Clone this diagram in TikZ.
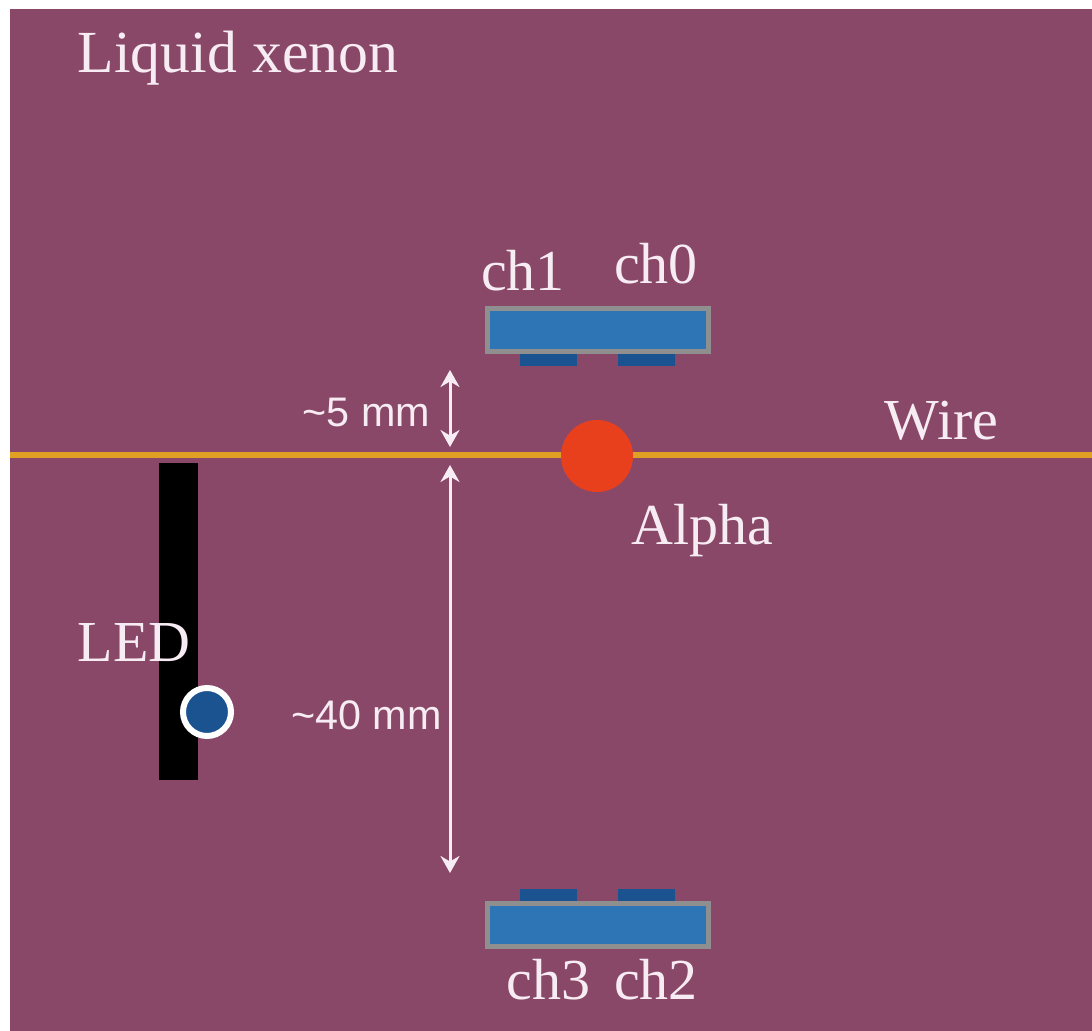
\documentclass[tikz,border=0pt]{standalone}
\usepackage{fontspec}
\setmainfont{Liberation Serif}
\setsansfont{Liberation Sans}
\usetikzlibrary{arrows.meta}
\definecolor{xenon}{HTML}{894868}
\definecolor{sipm}{HTML}{2E75B6}
\definecolor{pad}{HTML}{1B5391}
\definecolor{frame}{HTML}{8F8F8F}
\definecolor{wirecol}{HTML}{E0A024}
\definecolor{alphacol}{HTML}{E8401C}
\definecolor{txt}{HTML}{F7ECF3}
\tikzset{
  lbl/.style={text=txt, inner sep=0pt, font=\fontsize{33}{36}\selectfont},
  dim/.style={text=txt, inner sep=0pt, font=\sffamily\fontsize{23.5}{26}\selectfont},
  sensor/.style={rectangle, draw=frame, line width=1mm, fill=sipm, minimum width=4.42cm, minimum height=0.86cm, inner sep=0pt},
  padbox/.style={rectangle, fill=pad, minimum width=1.14cm, minimum height=0.26cm, inner sep=0pt},
  wirel/.style={line width=1.3mm, wirecol},
  span/.style={line width=0.6mm, txt, {Stealth[length=3.4mm,width=3.8mm]}-{Stealth[length=3.4mm,width=3.8mm]}}
}

\begin{document}
\begin{tikzpicture}
  \useasboundingbox (0,0) rectangle (21.84,-20.62);
  % Liquid volume
  \fill[xenon] (0.2,-0.18) rectangle (21.84,-20.62);

  % Wire and alpha source
  \coordinate (wireL) at (0.2,-9.1);
  \coordinate (wireR) at (21.84,-9.1);
  \draw[wirel] (wireL) -- (wireR);
  \node[circle, fill=alphacol, minimum size=1.44cm, inner sep=0pt] (alpha) at (11.94,-9.12) {};

  % Top sensor
  \node[padbox] (p1) at (10.97,-7.2) {};
  \node[padbox] (p0) at (12.92,-7.2) {};
  \node[sensor] (top) at (11.96,-6.6) {};

  % Bottom sensor
  \node[padbox] (p3) at (10.97,-17.92) {};
  \node[padbox] (p2) at (12.92,-17.92) {};
  \node[sensor] (bot) at (11.96,-18.51) {};

  % LED on its holder
  \node[rectangle, fill=black, minimum width=0.78cm, minimum height=6.34cm, inner sep=0pt] (bar) at (3.57,-12.43) {};
  \node[circle, draw=white, line width=1.2mm, fill=pad, minimum size=0.96cm, inner sep=0pt] (led) at (4.14,-14.24) {};

  % Distances
  \coordinate (a1) at (9,-7.4);
  \coordinate (a2) at (9,-8.94);
  \coordinate (a3) at (9,-9.3);
  \coordinate (a4) at (9,-17.46);
  \draw[span] (a1) -- (a2);
  \draw[span] (a3) -- (a4);
  \node[dim] (d5) at (7.33,-8.26) {\textasciitilde5 mm};
  \node[dim] (d40) at (7.33,-14.3) {\textasciitilde40 mm};

  % Labels
  \node[lbl, font=\fontsize{34}{36}\selectfont] (lx) at (4.76,-1.16) {Liquid xenon};
  \node[lbl] (ch1) at (10.46,-5.42) {ch1};
  \node[lbl] (ch0) at (13.12,-5.27) {ch0};
  \node[lbl] (ch3) at (10.97,-19.6) {ch3};
  \node[lbl] (ch2) at (13.12,-19.6) {ch2};
  \node[lbl] (wl) at (18.83,-8.41) {Wire};
  \node[lbl] (al) at (14.05,-10.62) {Alpha};
  \node[lbl] (ll) at (2.68,-12.86) {LED};
\end{tikzpicture}
\end{document}
